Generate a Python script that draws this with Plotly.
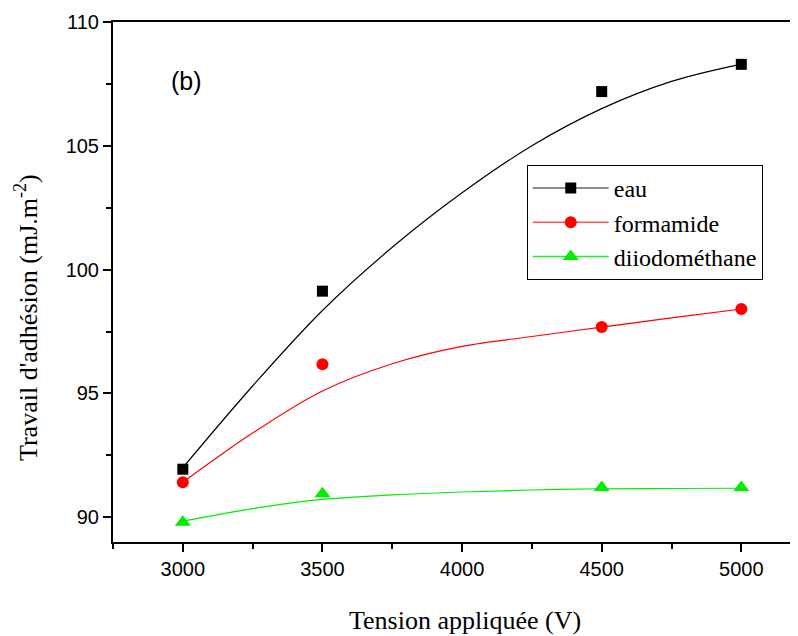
import plotly.graph_objects as go

# Measured data points
tension = [3000, 3500, 4500, 5000]
eau = [91.94, 99.13, 107.19, 108.29]
formamide = [91.41, 96.18, 97.68, 98.41]
diiodomethane = [89.8, 90.95, 91.2, 91.2]

# Fitted curves
fit_x = [3000, 3250, 3500, 3750, 4000, 4250, 4500, 4750, 5000]
eau_fit = [92.0, 95.3, 98.35, 100.9, 103.1, 105.0, 106.5, 107.6, 108.3]
formamide_fit = [91.41, 93.4, 95.1, 96.2, 96.9, 97.3, 97.68, 98.05, 98.41]
diiodomethane_fit = [89.84, 90.35, 90.72, 90.9, 91.02, 91.1, 91.15, 91.16, 91.17]

names = ["eau", "formamide", "diiodométhane"]
colors = ["#000000", "#ff0000", "#00ee00"]
legend_line_colors = ["#666666", "#ff5555", "#22ee22"]
symbols = ["square", "circle", "triangle-up"]
marker_sizes = [11, 12, 14]

SERIF = "Liberation Serif"
SANS = "Liberation Sans"

fig = go.Figure()
points = [eau, formamide, diiodomethane]
fits = [eau_fit, formamide_fit, diiodomethane_fit]

for i in range(3):
    fig.add_trace(go.Scatter(
        x=fit_x, y=fits[i], mode="lines", line=dict(color=colors[i], width=1.2, shape="spline"),
        showlegend=False, hoverinfo="skip"))
for i in range(3):
    fig.add_trace(go.Scatter(
        x=tension, y=points[i], mode="markers",
        marker=dict(symbol=symbols[i], size=marker_sizes[i], color=colors[i], line=dict(width=0)),
        showlegend=False))
for i in range(3):
    fig.add_trace(go.Scatter(
        x=[None], y=[None], mode="lines+markers", name=names[i],
        line=dict(color=legend_line_colors[i], width=1.5),
        marker=dict(symbol=symbols[i], size=marker_sizes[i], color=colors[i], line=dict(width=0))))

tickfont = dict(family=SANS, size=20, color="black")

# page body has an 8px margin: figure is 790x628 so it fills the 798x636 window
fig.update_layout(
    width=790, height=628,
    margin=dict(l=105, r=0, t=14, b=94),
    paper_bgcolor="white", plot_bgcolor="white",
    xaxis=dict(range=[2750, 5203], dtick=500, tick0=0, ticks="outside", ticklen=8, tickwidth=1.5,
               tickcolor="black", showline=True, linewidth=2, linecolor="black", mirror=True,
               showgrid=False, zeroline=False, tickfont=tickfont,
               minor=dict(dtick=250, tick0=0, ticks="outside", ticklen=5, tickwidth=1.5, tickcolor="black")),
    yaxis=dict(range=[89, 110], dtick=5, tick0=0, ticks="outside", ticklen=8, tickwidth=1.5,
               tickcolor="black", showline=True, linewidth=2, linecolor="black",
               showgrid=False, zeroline=False, tickfont=tickfont,
               minor=dict(dtick=2.5, tick0=0, ticks="outside", ticklen=5, tickwidth=1.5, tickcolor="black")),
    legend=dict(x=0.604, y=0.725, xanchor="left", yanchor="top", bordercolor="black", borderwidth=1,
                bgcolor="white", font=dict(family=SERIF, size=24, color="black"),
                itemwidth=76),
    annotations=[
        dict(text="Tension appliquée (V)", xref="paper", yref="paper", x=0.514, y=-0.15,
             xanchor="center", yanchor="middle", showarrow=False,
             font=dict(family=SERIF, size=26, color="black")),
        dict(text="Travail d'adhésion (mJ.m<sup>-2</sup>)", xref="paper", yref="paper", x=-0.1255, y=0.4308,
             xanchor="center", yanchor="middle", textangle=-90, showarrow=False,
             font=dict(family=SERIF, size=26, color="black")),
        dict(text="(b)", xref="paper", yref="paper", x=0.108, y=0.8865,
             xanchor="center", yanchor="middle", showarrow=False,
             font=dict(family=SANS, size=25, color="black")),
    ],
)

fig.write_html("out.html")
